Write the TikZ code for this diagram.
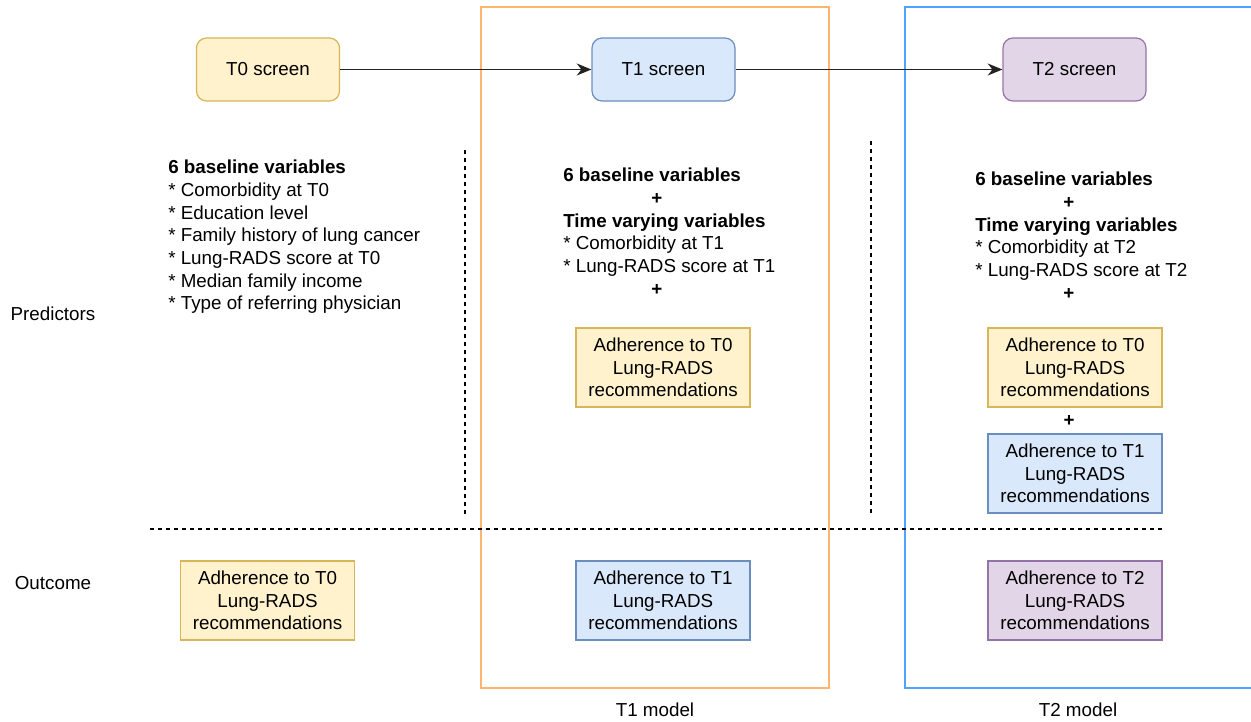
\documentclass[tikz,border=0pt]{standalone}
\usepackage{fontspec}
\setmainfont{Liberation Sans}
\usetikzlibrary{arrows.meta}
\definecolor{yelfill}{HTML}{FFF2CC}
\definecolor{yeldraw}{HTML}{D6B656}
\definecolor{blufill}{HTML}{DAE8FC}
\definecolor{bludraw}{HTML}{6C8EBF}
\definecolor{purfill}{HTML}{E1D5E7}
\definecolor{purdraw}{HTML}{9673A6}
\definecolor{modelorange}{HTML}{FFB570}
\definecolor{modelblue}{HTML}{4DA3FF}
\definecolor{darkline}{HTML}{222222}
\newcommand\plusline{\hspace*{66pt}\textbf{+}}
\tikzset{
  screen/.style={rounded corners=7.5pt, line width=0.9pt, minimum width=107.25pt,
    minimum height=47.25pt, inner sep=0pt},
  adhbox/.style={line width=0.9pt, minimum width=130.5pt, minimum height=59.25pt,
    inner sep=0pt, align=center},
  vartext/.style={anchor=north west, inner sep=0pt, align=left},
  flow/.style={-{Stealth[length=11pt,width=9pt,inset=3.5pt]}, line width=1.2pt, darkline},
  split/.style={line width=0.9pt, dash pattern=on 3pt off 3pt},
  modelbox/.style={line width=1.3pt}
}
\begin{document}
\begin{tikzpicture}[x=0.75pt,y=-0.75pt,font=\fontsize{14.1}{17}\selectfont]
\useasboundingbox (0,0) rectangle (1251,721);
% model frames
\draw [modelbox, modelorange] (481,7) rectangle (829,688);
\draw [modelbox, modelblue] (1255,7) -- (905,7) -- (905,688) -- (1255,688);
\node (m1) at (655,710) {T1 model};
\node (m2) at (1078,710) {T2 model};
% separators
\draw [split] (150,529) -- (1162,529);
\draw [split] (465,150) -- (465,515);
\draw [split] (871,141) -- (871,515);
% row labels
\node (pred) at (53,314) {Predictors};
\node (outc) at (53,583) {Outcome};
% screens
\node [screen, fill=yelfill, draw=yeldraw] (t0) at (268,69.5) {T0 screen};
\node [screen, fill=blufill, draw=bludraw] (t1) at (663.5,69.5) {T1 screen};
\node [screen, fill=purfill, draw=purdraw] (t2) at (1074.5,69.5) {T2 screen};
\draw [flow] (t0) -- (t1);
\draw [flow] (t1) -- (t2);
% predictors
\node [vartext] (v0) at (168,160) {\textbf{6 baseline variables}\\
  * Comorbidity at T0\\
  * Education level\\
  * Family history of lung cancer\\
  * Lung-RADS score at T0\\
  * Median family income\\
  * Type of referring physician};
\node [vartext] (v1) at (563,168) {\textbf{6 baseline variables}\\
  \plusline\\
  \textbf{Time varying variables}\\
  * Comorbidity at T1\\
  * Lung-RADS score at T1\\
  \plusline};
\node [vartext] (v2) at (975,172) {\textbf{6 baseline variables}\\
  \plusline\\
  \textbf{Time varying variables}\\
  * Comorbidity at T2\\
  * Lung-RADS score at T2\\
  \plusline};
\node [adhbox, fill=yelfill, draw=yeldraw] (p1a) at (663,367.5) {Adherence to T0\\Lung-RADS\\recommendations};
\node [adhbox, fill=yelfill, draw=yeldraw] (p2a) at (1075,367.5) {Adherence to T0\\Lung-RADS\\recommendations};
\node (p2plus) at (1069,421) {\textbf{+}};
\node [adhbox, fill=blufill, draw=bludraw] (p2b) at (1075,473.5) {Adherence to T1\\Lung-RADS\\recommendations};
% outcomes
\node [adhbox, fill=yelfill, draw=yeldraw] (o0) at (267.5,600.5) {Adherence to T0\\Lung-RADS\\recommendations};
\node [adhbox, fill=blufill, draw=bludraw] (o1) at (663,600.5) {Adherence to T1\\Lung-RADS\\recommendations};
\node [adhbox, fill=purfill, draw=purdraw] (o2) at (1075,600.5) {Adherence to T2\\Lung-RADS\\recommendations};
\end{tikzpicture}
\end{document}
